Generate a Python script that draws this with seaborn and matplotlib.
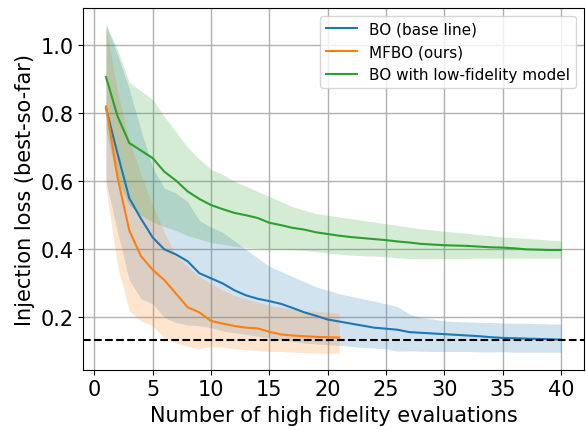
#!/usr/bin/env python3
"""Best-so-far injection loss vs. number of high-fidelity evaluations."""
import matplotlib

matplotlib.use("Agg")
import matplotlib.pyplot as plt
import numpy as np
import pandas as pd
import seaborn as sns

# --- data --------------------------------------------------------------
METHODS = ["BO (base line)", "MFBO (ours)", "BO with low-fidelity model"]
REFERENCE_LOSS = 0.135

bo_x = list(range(1, 41))
bo_mean = [0.815, 0.68, 0.55, 0.49, 0.435, 0.40, 0.385, 0.365, 0.33, 0.315,
           0.30, 0.28, 0.265, 0.255, 0.248, 0.24, 0.228, 0.215, 0.205, 0.194,
           0.188, 0.182, 0.176, 0.17, 0.167, 0.164, 0.157, 0.155, 0.153, 0.151,
           0.149, 0.147, 0.145, 0.142, 0.14, 0.139, 0.138, 0.137, 0.136, 0.135]
bo_upper = [1.06, 0.97, 0.87, 0.75, 0.64, 0.58, 0.565, 0.54, 0.485, 0.465,
            0.45, 0.425, 0.40, 0.375, 0.35, 0.335, 0.32, 0.305, 0.29, 0.28,
            0.27, 0.262, 0.255, 0.248, 0.24, 0.232, 0.21, 0.20, 0.195, 0.19,
            0.188, 0.187, 0.186, 0.185, 0.184, 0.183, 0.183, 0.182, 0.181, 0.18]
bo_lower = [0.60, 0.45, 0.31, 0.255, 0.24, 0.20, 0.185, 0.178, 0.176, 0.17,
            0.16, 0.155, 0.15, 0.145, 0.14, 0.135, 0.13, 0.125, 0.122, 0.12,
            0.118, 0.115, 0.112, 0.11, 0.108, 0.101, 0.102, 0.101, 0.10, 0.10,
            0.10, 0.10, 0.099, 0.099, 0.099, 0.098, 0.098, 0.098, 0.098, 0.098]

mf_x = list(range(1, 22))
mf_mean = [0.82, 0.61, 0.455, 0.38, 0.34, 0.31, 0.27, 0.23, 0.215, 0.19,
           0.182, 0.175, 0.17, 0.168, 0.158, 0.15, 0.147, 0.145, 0.143, 0.142,
           0.141]
mf_upper = [1.05, 0.86, 0.72, 0.62, 0.53, 0.45, 0.38, 0.35, 0.32, 0.30,
            0.28, 0.265, 0.255, 0.245, 0.235, 0.23, 0.225, 0.22, 0.218, 0.215,
            0.212]
mf_lower = [0.58, 0.35, 0.22, 0.19, 0.175, 0.14, 0.125, 0.115, 0.108, 0.115,
            0.113, 0.108, 0.105, 0.103, 0.10, 0.10, 0.098, 0.097, 0.096, 0.095,
            0.095]

lf_x = list(range(1, 41))
lf_mean = [0.906, 0.79, 0.712, 0.69, 0.668, 0.628, 0.602, 0.57, 0.548, 0.53,
           0.518, 0.507, 0.50, 0.492, 0.478, 0.471, 0.463, 0.458, 0.45, 0.445,
           0.44, 0.436, 0.433, 0.43, 0.427, 0.423, 0.42, 0.416, 0.414, 0.412,
           0.411, 0.41, 0.408, 0.406, 0.405, 0.403, 0.40, 0.399, 0.398, 0.398]
lf_upper = [1.06, 0.985, 0.89, 0.865, 0.84, 0.79, 0.745, 0.70, 0.665, 0.635,
            0.62, 0.60, 0.585, 0.57, 0.555, 0.54, 0.525, 0.515, 0.505, 0.50,
            0.495, 0.49, 0.485, 0.48, 0.475, 0.47, 0.465, 0.46, 0.457, 0.453,
            0.45, 0.447, 0.443, 0.44, 0.436, 0.434, 0.432, 0.43, 0.427, 0.425]
lf_lower = [0.75, 0.60, 0.53, 0.50, 0.48, 0.467, 0.455, 0.44, 0.43, 0.42,
            0.415, 0.409, 0.405, 0.403, 0.401, 0.40, 0.399, 0.397, 0.393, 0.389,
            0.386, 0.383, 0.381, 0.38, 0.378, 0.375, 0.373, 0.372, 0.372, 0.373,
            0.373, 0.373, 0.374, 0.374, 0.374, 0.374, 0.374, 0.374, 0.374, 0.374]


def main() -> None:
    series = [
        (METHODS[0], bo_x, bo_mean, bo_lower, bo_upper),
        (METHODS[1], mf_x, mf_mean, mf_lower, mf_upper),
        (METHODS[2], lf_x, lf_mean, lf_lower, lf_upper),
    ]
    df = pd.concat(
        [pd.DataFrame({"n": x, "loss": m, "method": name}) for name, x, m, _, _ in series],
        ignore_index=True,
    )
    palette = dict(zip(METHODS, ["#1f77b4", "#ff7f0e", "#2ca02c"]))

    plt.rcParams["font.family"] = ["DejaVu Sans"]
    fig, ax = plt.subplots(figsize=(5.86, 4.31), dpi=100)

    for name, x, _, lo, hi in series:
        ax.fill_between(x, lo, hi, color=palette[name], alpha=0.2, linewidth=0)

    sns.lineplot(
        data=df, x="n", y="loss", hue="method", hue_order=METHODS,
        palette=palette, linewidth=1.5, errorbar=None, ax=ax,
    )
    ax.axhline(REFERENCE_LOSS, color="black", linestyle="--", linewidth=1.5)

    ax.grid(True, color="#b0b0b0", linewidth=1.0)
    ax.set_axisbelow(True)
    ax.set_xticks(np.arange(0, 41, 5))
    ax.tick_params(labelsize=15)
    ax.set_xlabel("Number of high fidelity evaluations", fontsize=15)
    ax.set_ylabel("Injection loss (best-so-far)", fontsize=15)
    ax.legend(loc="upper right", fontsize=11)

    fig.subplots_adjust(left=0.142, right=0.996, top=0.979, bottom=0.14)
    fig.savefig("out.png", dpi=100)


if __name__ == "__main__":
    main()
